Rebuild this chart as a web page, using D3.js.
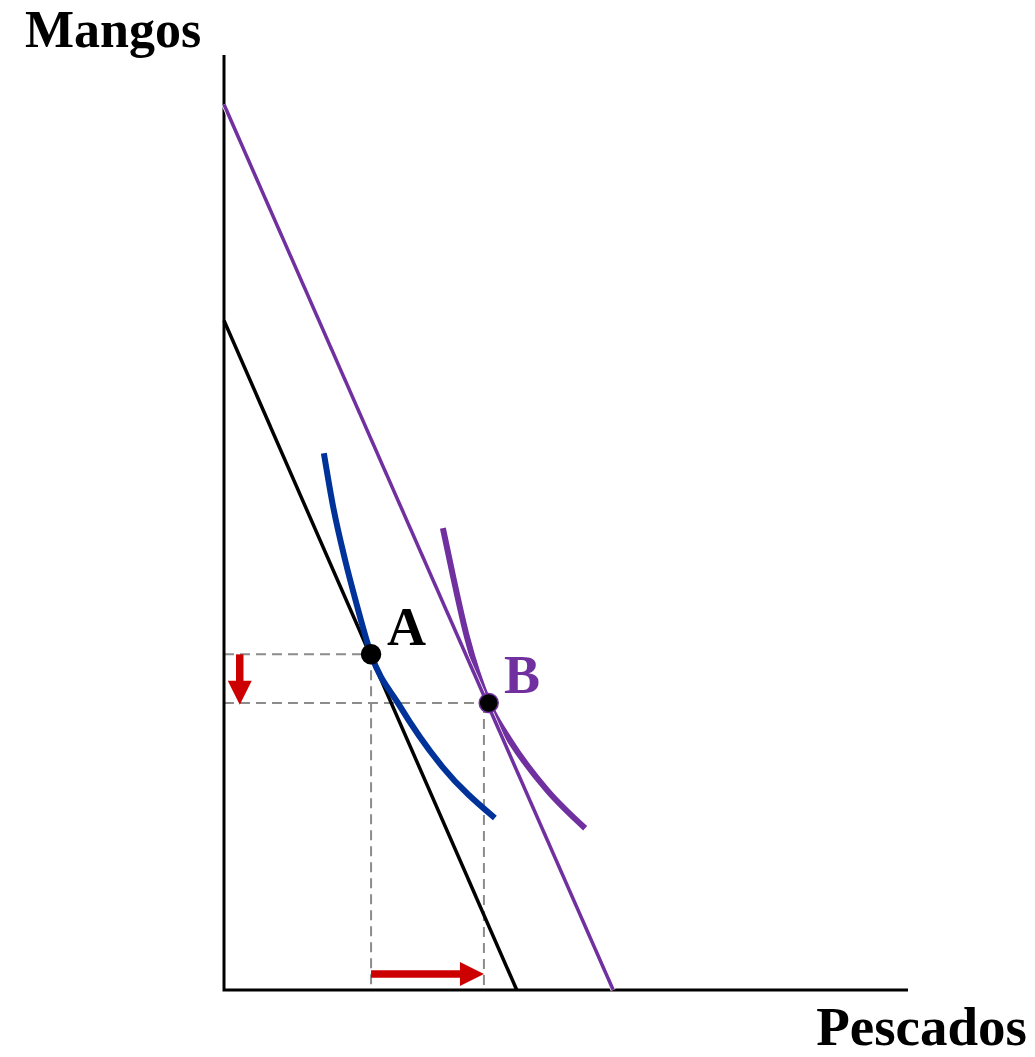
<!DOCTYPE html>
<html>
<head>
<meta charset="utf-8">
<script src="https://cdn.jsdelivr.net/npm/d3@7"></script>
<style>
  html, body { margin: 0; padding: 0; background: #fff; }
  svg { display: block; }
  text { font-family: "Liberation Serif", "Times New Roman", serif; font-weight: bold; }
</style>
</head>
<body>
<div id="chart"></div>
<script>
// axis titles
const axisTitles = {x: 'Pescados', y: 'Mangos'};

// budget lines: [x, y] end points (intercepts)
const budgetOld = [[0, 7.16], [4.28, 0]];
const budgetNew = [[0, 9.47], [5.69, 0]];

// indifference curves
const curveA = [[1.46, 5.74], [1.59, 5.19], [1.77, 4.60], [1.93, 4.15], [2.15, 3.59],
  [2.56, 3.05], [3.19, 2.39], [3.96, 1.84]];
const curveB = [[3.20, 4.94], [3.35, 4.42], [3.55, 3.78], [3.87, 3.07], [4.18, 2.67],
  [4.72, 2.14], [5.28, 1.73]];

// optimum points
const points = [
  {name: 'A', x: 2.15, y: 3.59, guideX: 2.15},
  {name: 'B', x: 3.87, y: 3.07, guideX: 3.80}
];

// change arrows: [from, to]
const arrowMangos = [[0.23, 3.59], [0.23, 3.05]];
const arrowPescados = [[2.15, 0.17], [3.80, 0.17]];

const width = 1035, height = 1057;

const svg = d3.select('#chart').append('svg')
  .attr('width', width)
  .attr('height', height);

let x = d3.scaleLinear().domain([0, 10]).range([224, 908]);
let y = d3.scaleLinear().domain([0, 10]).range([990, 55]);

let line = d3.line().x(d => x(d[0])).y(d => y(d[1]));
let smooth = d3.line().x(d => x(d[0])).y(d => y(d[1])).curve(d3.curveMonotoneX);

// dashed guides
let guides = svg.append('g')
  .attr('fill', 'none')
  .attr('stroke', '#8c8c8c')
  .attr('stroke-width', 2)
  .attr('stroke-dasharray', '10,6');

points.forEach(p => {
  guides.append('path').attr('d', line([[0, p.y], [p.x, p.y]]));
  guides.append('path').attr('d', line([[p.guideX, p.y], [p.guideX, 0]]));
});

// axes
svg.append('path')
  .attr('d', line([[0, 10], [0, 0], [10, 0]]))
  .attr('fill', 'none')
  .attr('stroke', '#000')
  .attr('stroke-width', 3);

// old budget line
svg.append('path')
  .attr('d', line(budgetOld))
  .attr('fill', 'none')
  .attr('stroke', '#000')
  .attr('stroke-width', 3.5);

// indifference curves
svg.append('path')
  .attr('d', smooth(curveA))
  .attr('fill', 'none')
  .attr('stroke', '#003399')
  .attr('stroke-width', 6);

svg.append('path')
  .attr('d', smooth(curveB))
  .attr('fill', 'none')
  .attr('stroke', '#7030a0')
  .attr('stroke-width', 6);

// new budget line, with a thin white casing
svg.append('path')
  .attr('d', line(budgetNew))
  .attr('fill', 'none')
  .attr('stroke', '#fff')
  .attr('stroke-width', 5);

svg.append('path')
  .attr('d', line(budgetNew))
  .attr('fill', 'none')
  .attr('stroke', '#7030a0')
  .attr('stroke-width', 3.5);

// points
svg.selectAll('.pt')
  .data(points)
  .enter()
  .append('circle')
  .attr('class', 'pt')
  .attr('cx', d => x(d.x))
  .attr('cy', d => y(d.y))
  .attr('r', 9.5)
  .attr('fill', '#000')
  .attr('stroke', d => d.name === 'B' ? '#7030a0' : '#000')
  .attr('stroke-width', 1.5);

// red arrows
function arrow(seg) {
  let x0 = x(seg[0][0]), y0 = y(seg[0][1]), x1 = x(seg[1][0]), y1 = y(seg[1][1]);
  let len = Math.hypot(x1 - x0, y1 - y0), ux = (x1 - x0) / len, uy = (y1 - y0) / len;
  let head = 24, half = 12;
  let bx = x1 - ux * head, by = y1 - uy * head;
  svg.append('line')
    .attr('x1', x0).attr('y1', y0)
    .attr('x2', bx + ux).attr('y2', by + uy)
    .attr('stroke', '#cc0000')
    .attr('stroke-width', 7.5);
  svg.append('path')
    .attr('d', 'M' + x1 + ',' + y1 +
      'L' + (bx - uy * half) + ',' + (by + ux * half) +
      'L' + (bx + uy * half) + ',' + (by - ux * half) + 'Z')
    .attr('fill', '#cc0000');
}
arrow(arrowMangos);
arrow(arrowPescados);

// labels
svg.append('text')
  .attr('x', 387).attr('y', 645)
  .attr('font-size', 54)
  .attr('fill', '#000')
  .text(points[0].name);

svg.append('text')
  .attr('x', 504).attr('y', 693)
  .attr('font-size', 54)
  .attr('fill', '#7030a0')
  .text(points[1].name);

svg.append('text')
  .attr('x', 25).attr('y', 47)
  .attr('font-size', 52)
  .text(axisTitles.y);

svg.append('text')
  .attr('x', 1027).attr('y', 1045)
  .attr('text-anchor', 'end')
  .attr('font-size', 55)
  .text(axisTitles.x);
</script>
</body>
</html>
